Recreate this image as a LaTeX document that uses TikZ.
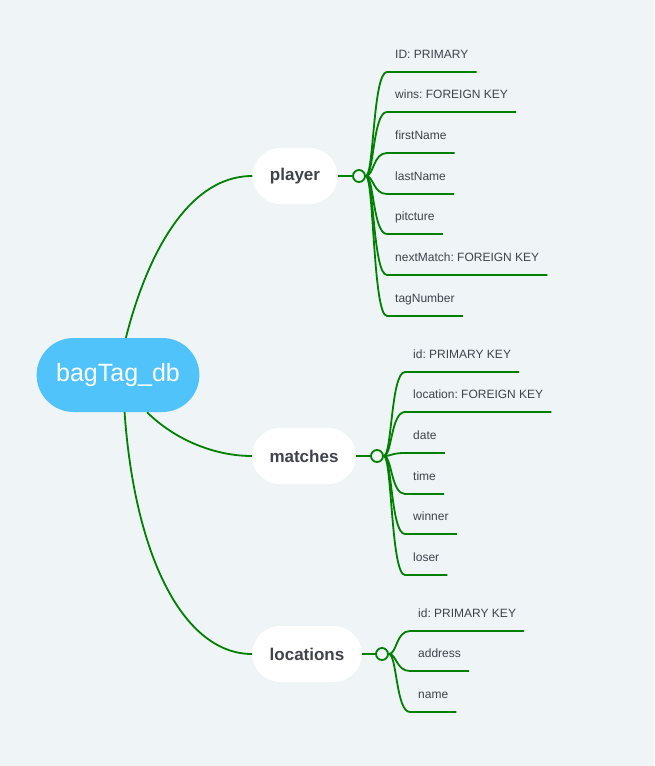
\documentclass[tikz,border=0pt]{standalone}
\usepackage{fontspec}
\setmainfont{Liberation Sans}
\frenchspacing
\definecolor{bgcol}{HTML}{EFF4F7}
\definecolor{dbblue}{HTML}{50C3FB}
\definecolor{linkgreen}{HTML}{008000}
\definecolor{labelgray}{HTML}{3E434C}

\begin{document}
\begin{tikzpicture}[x=1pt, y=-1pt,
    dbnode/.style={rectangle, rounded corners=37pt, fill=dbblue, text=white, minimum height=74pt, inner xsep=19.5pt, font=\fontsize{25}{29}\selectfont},
    tablebox/.style={rectangle, rounded corners=28pt, fill=white, text=labelgray, minimum height=56pt, inner xsep=17.5pt, font=\fontsize{17}{20}\selectfont\bfseries},
    hub/.style={circle, draw=linkgreen, fill=bgcol, line width=1.8pt, minimum size=12pt, inner sep=0pt},
    fieldlabel/.style={anchor=south west, inner xsep=8pt, inner ysep=0pt, text height=9pt, text depth=13pt, text=labelgray, font=\fontsize{12}{14}\selectfont\frenchspacing},
    branch/.style={draw=linkgreen, line width=1.8pt}
]

% Background
\fill[bgcol] (0,0) rectangle (654,766);

% Database
\node[dbnode] (db) at (118,375) {bagTag\_db};

% Tables
\node[tablebox] (player) at (295,176) {player};
\node[tablebox] (matches) at (304,456) {matches};
\node[tablebox] (locations) at (307,654) {locations};

% Links to tables
\draw[branch] (db.78) .. controls (145,262) and (185,176) .. (player.west);
\draw[branch] (db.-52) .. controls (175,440) and (215,456) .. (matches.west);
\draw[branch] (db.-80) .. controls (135,560) and (185,654) .. (locations.west);

% Hubs
\node[hub] (phub) at (359,176) {};
\node[hub] (mhub) at (377,456) {};
\node[hub] (lhub) at (382,654) {};
\draw[branch] (player) -- (phub);
\draw[branch] (matches) -- (mhub);
\draw[branch] (locations) -- (lhub);

% Player fields
\node[fieldlabel] (pid) at (387,72) {ID: PRIMARY};
\node[fieldlabel] (pwins) at (387,112) {wins: FOREIGN KEY};
\node[fieldlabel] (pfirst) at (387,153) {firstName};
\node[fieldlabel] (plast) at (387,194) {lastName};
\node[fieldlabel] (ppic) at (387,234) {pitcture};
\node[fieldlabel] (pnext) at (387,275) {nextMatch: FOREIGN KEY};
\node[fieldlabel] (ptag) at (387,316) {tagNumber};
\draw[branch] (phub.east) .. controls +(8,0) and +(-14,0) .. (pid.south west) -- (pid.south east);
\draw[branch] (phub.east) .. controls +(8,0) and +(-14,0) .. (pwins.south west) -- (pwins.south east);
\draw[branch] (phub.east) .. controls +(8,0) and +(-14,0) .. (pfirst.south west) -- (pfirst.south east);
\draw[branch] (phub.east) .. controls +(8,0) and +(-14,0) .. (plast.south west) -- (plast.south east);
\draw[branch] (phub.east) .. controls +(8,0) and +(-14,0) .. (ppic.south west) -- (ppic.south east);
\draw[branch] (phub.east) .. controls +(8,0) and +(-14,0) .. (pnext.south west) -- (pnext.south east);
\draw[branch] (phub.east) .. controls +(8,0) and +(-14,0) .. (ptag.south west) -- (ptag.south east);

% Matches fields
\node[fieldlabel] (mid) at (405,372) {id: PRIMARY KEY};
\node[fieldlabel] (mloc) at (405,412) {location: FOREIGN KEY};
\node[fieldlabel] (mdate) at (405,453) {date};
\node[fieldlabel] (mtime) at (405,494) {time};
\node[fieldlabel] (mwin) at (405,534) {winner};
\node[fieldlabel] (mlose) at (405,575) {loser};
\draw[branch] (mhub.east) .. controls +(8,0) and +(-14,0) .. (mid.south west) -- (mid.south east);
\draw[branch] (mhub.east) .. controls +(8,0) and +(-14,0) .. (mloc.south west) -- (mloc.south east);
\draw[branch] (mhub.east) .. controls +(8,0) and +(-14,0) .. (mdate.south west) -- (mdate.south east);
\draw[branch] (mhub.east) .. controls +(8,0) and +(-14,0) .. (mtime.south west) -- (mtime.south east);
\draw[branch] (mhub.east) .. controls +(8,0) and +(-14,0) .. (mwin.south west) -- (mwin.south east);
\draw[branch] (mhub.east) .. controls +(8,0) and +(-14,0) .. (mlose.south west) -- (mlose.south east);

% Locations fields
\node[fieldlabel] (lid) at (410,631) {id: PRIMARY KEY};
\node[fieldlabel] (laddr) at (410,671) {address};
\node[fieldlabel] (lname) at (410,712) {name};
\draw[branch] (lhub.east) .. controls +(8,0) and +(-14,0) .. (lid.south west) -- (lid.south east);
\draw[branch] (lhub.east) .. controls +(8,0) and +(-14,0) .. (laddr.south west) -- (laddr.south east);
\draw[branch] (lhub.east) .. controls +(8,0) and +(-14,0) .. (lname.south west) -- (lname.south east);

\end{tikzpicture}
\end{document}
